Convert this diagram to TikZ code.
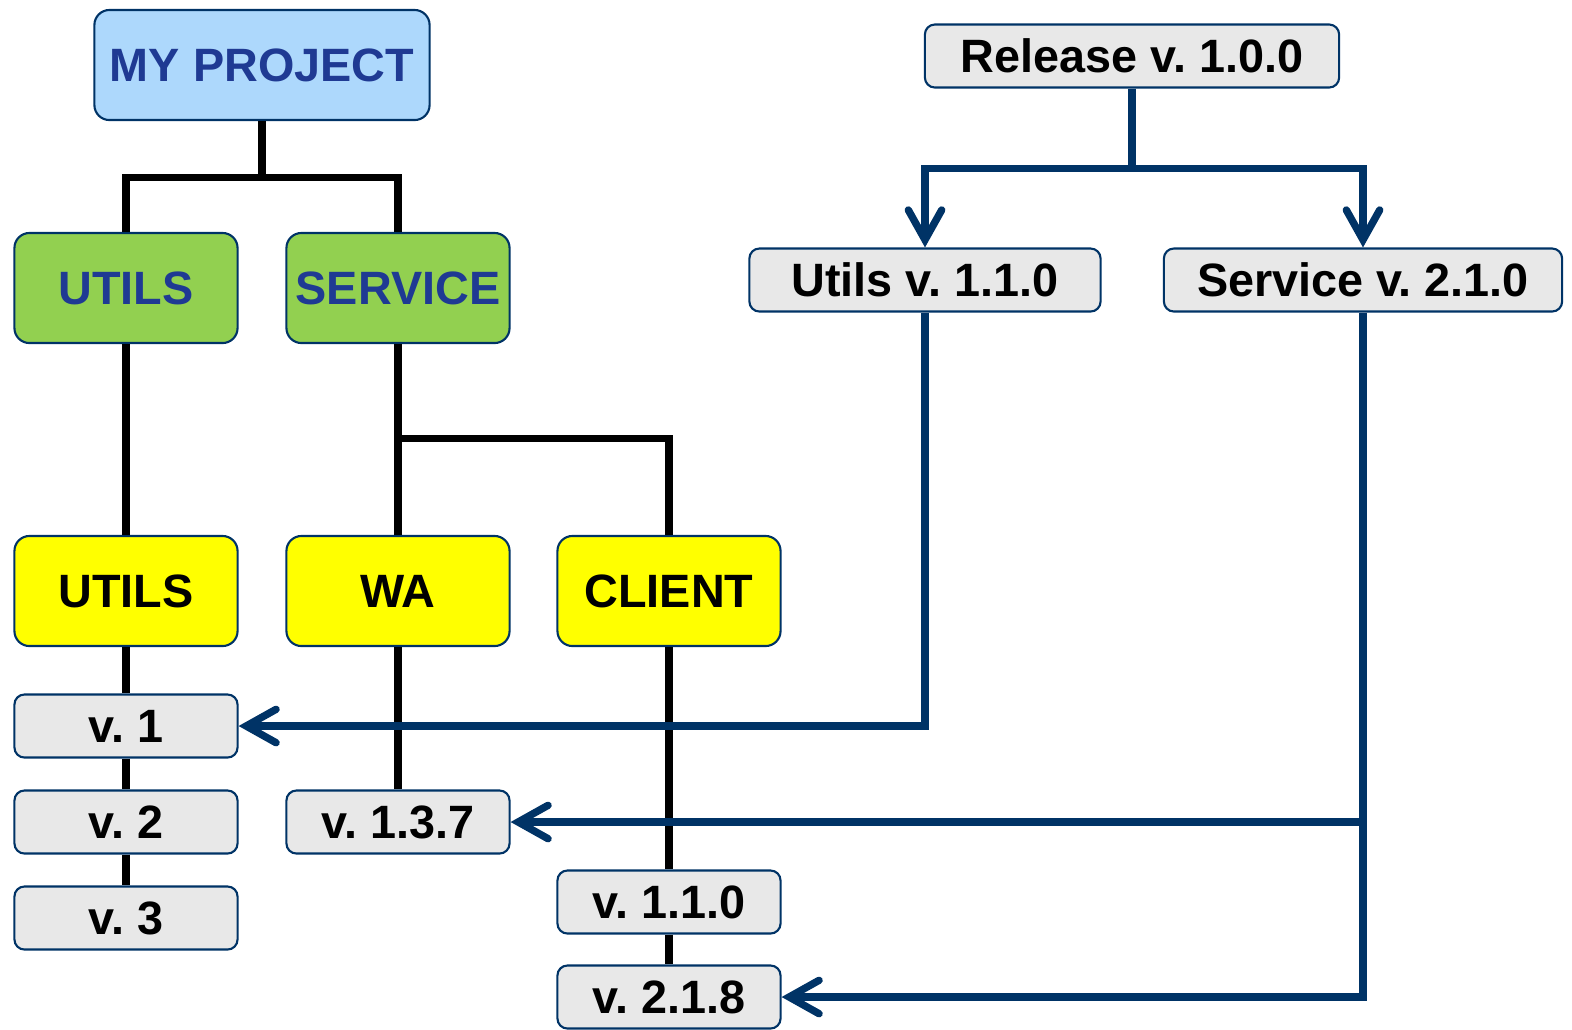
\documentclass[tikz,border=0pt]{standalone}
\usepackage{fontspec}
\setmainfont{Liberation Sans}
\usepackage{xcolor}
\usepackage{tikz}
\usetikzlibrary{arrows.meta}
\frenchspacing

\definecolor{projblue}{RGB}{173,216,252}
\definecolor{textblue}{RGB}{31,58,147}
\definecolor{lineblue}{RGB}{0,51,102}
\definecolor{modgreen}{RGB}{146,208,80}
\definecolor{boxgray}{RGB}{232,232,232}
\definecolor{partyellow}{RGB}{255,255,0}

\begin{document}
\begin{tikzpicture}[
x=0.01cm,y=-0.01cm,
font=\fontsize{13.3}{16}\selectfont\bfseries,
box/.style={draw=lineblue,line width=0.6pt,rounded corners=0.15cm,inner sep=0pt,
  minimum width=2.23cm,minimum height=1.1cm},
project/.style={box,fill=projblue,text=textblue,minimum width=3.35cm},
module/.style={box,fill=modgreen,text=textblue},
part/.style={box,fill=partyellow,text=black},
version/.style={box,fill=boxgray,text=black,rounded corners=0.1cm,minimum height=0.63cm},
tree/.style={line width=2pt,black},
release/.style={line width=2.1pt,lineblue,-{Straight Barb[length=8.5pt,width=9.5pt,line cap=round]}},
scale=1]
    % Fix the page
    \useasboundingbox (0,0) rectangle (1572,1029);

    % Project tree
    \node[project] (proj) at (262,65) {MY PROJECT};
    \node[module] (utilsM) at (126,288) {UTILS};
    \node[module] (serviceM) at (398,288) {SERVICE};
    \node[part] (utilsP) at (126,591) {UTILS};
    \node[part] (wa) at (398,591) {WA};
    \node[part] (client) at (669,591) {CLIENT};

    % Versions
    \node[version] (v1) at (126,726) {v. 1};
    \node[version] (v2) at (126,822) {v. 2};
    \node[version] (v3) at (126,918) {v. 3};
    \node[version] (v137) at (398,822) {v. 1.3.7};
    \node[version] (v110) at (669,902) {v. 1.1.0};
    \node[version] (v218) at (669,997) {v. 2.1.8};

    % Releases
    \node[version,minimum width=4.14cm] (rel) at (1132,56) {Release v. 1.0.0};
    \node[version,minimum width=3.51cm] (utilsR) at (925,280) {Utils v. 1.1.0};
    \node[version,minimum width=3.98cm] (serviceR) at (1363,280) {Service v. 2.1.0};

    % Black lines
    \draw[tree] (proj.south) -- ++(0,56) coordinate (pj) -| (utilsM.north);
    \draw[tree] (pj) -| (serviceM.north);
    \draw[tree] (utilsM.south) -- (utilsP.north);
    \draw[tree] (serviceM.south) -- (wa.north);
    \coordinate (sj) at (398,438);
    \draw[tree] (sj) -| (client.north);
    \draw[tree] (utilsP.south) -- (v1.north);
    \draw[tree] (v1.south) -- (v2.north);
    \draw[tree] (v2.south) -- (v3.north);
    \draw[tree] (wa.south) -- (v137.north);
    \draw[tree] (client.south) -- (v110.north);
    \draw[tree] (v110.south) -- (v218.north);

    % Blue arrows
    \draw[line width=2.1pt,lineblue] (rel.south) -- ++(0,80) coordinate (rj);
    \draw[release] (rj) -| (utilsR.north);
    \draw[release] (rj) -| (serviceR.north);
    \draw[release] (utilsR.south) |- (v1.east);
    \draw[release] (serviceR.south) |- (v218.east);
    \coordinate (bj) at (serviceR.south |- v137.east);
    \draw[release] (bj) -- (v137.east);

\end{tikzpicture}
\end{document}
